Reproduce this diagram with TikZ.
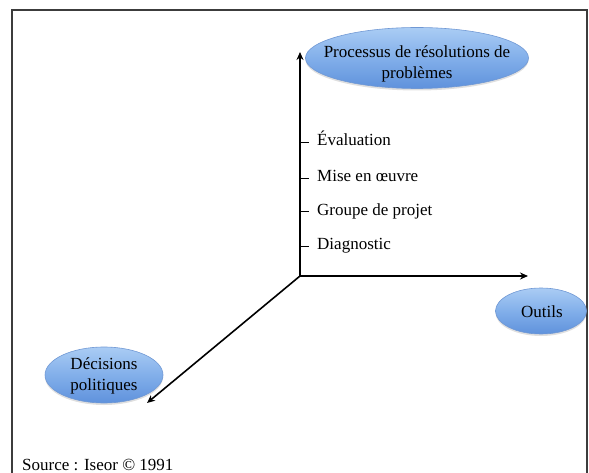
\documentclass[tikz,border=0pt]{standalone}
\usepackage{fontspec}
\setmainfont{Liberation Serif}
\usetikzlibrary{arrows.meta,shapes.geometric,shadows}
\definecolor{bubbletop}{RGB}{170,204,244}
\definecolor{bubblemid}{RGB}{130,175,234}
\definecolor{bubblebot}{RGB}{95,146,220}
\definecolor{bubbleline}{RGB}{112,152,212}
\definecolor{framecol}{RGB}{60,60,60}
\begin{document}
\begin{tikzpicture}[x=1pt,y=-1pt,
  font=\fontsize{17}{21}\selectfont,
  bubble/.style={ellipse, draw=bubbleline, line width=0.6pt, inner sep=0pt,
    top color=bubbletop, bottom color=bubblebot, middle color=bubblemid,
    drop shadow={shadow xshift=0pt, shadow yshift=-2pt, opacity=0.25}},
  bubbletext/.style={align=center, inner sep=0pt, text=black},
  axis/.style={line width=1.6pt, -{Stealth[length=8pt,width=7pt]}},
  tick/.style={line width=1.6pt},
  ticklabel/.style={anchor=base west, inner sep=0pt}]
  \useasboundingbox (0,0) rectangle (589,473);

  % open frame (no bottom edge)
  \draw[framecol, line width=1.5pt] (12,473) -- (12,10) -- (587,10) -- (587,473);

  % ellipses
  \node[bubble, minimum width=223pt, minimum height=61pt] (proc) at (417,58) {};
  \node[bubbletext] (proct) at (417,64) {Processus de résolutions de\\problèmes};
  \node[bubble, minimum width=91pt, minimum height=46pt] (outils) at (541,311) {};
  \node[bubbletext] (outilst) at (542,312) {Outils};
  \node[bubble, minimum width=118pt, minimum height=56pt] (dec) at (104,375) {};
  \node[bubbletext] (dect) at (104,376) {Décisions\\politiques};

  % axes
  \coordinate (o) at (300,276);
  \coordinate (ytip) at (300,52);
  \coordinate (xtip) at (528,276);
  \coordinate (dtip) at (147,403);
  \draw[axis] (o) -- (ytip);
  \draw[axis] (o) -- (xtip);
  \draw[axis] (o) -- (dtip);

  % graduations on the vertical axis
  \foreach \n/\y/\txt in {a/146/Évaluation, b/182/Mise en œuvre, c/215/Groupe de projet, d/250/Diagnostic}{
    \coordinate (t\n) at (300,\y-3.5);
    \coordinate (u\n) at (309,\y-3.5);
    \draw[tick] (t\n) -- (u\n);
    \node[ticklabel] (l\n) at (317,\y) {\txt};
  }

  \node[anchor=base west, inner sep=0pt] (src) at (22,470) {Source : Iseor © 1991};
\end{tikzpicture}
\end{document}
